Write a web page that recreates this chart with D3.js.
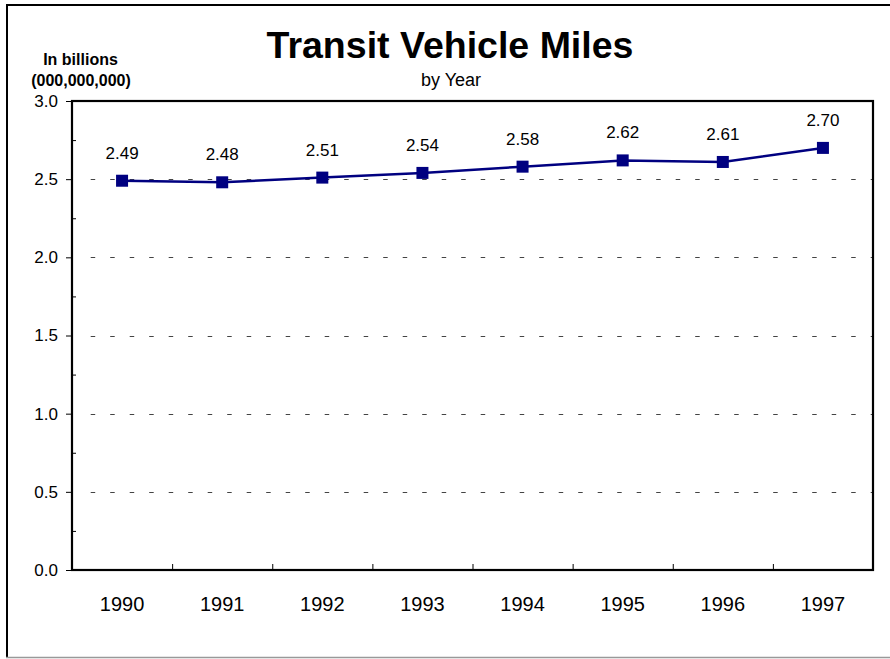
<!DOCTYPE html>
<html>
<head>
<meta charset="utf-8">
<script src="https://cdn.jsdelivr.net/npm/d3@7"></script>
<style>
  html, body { margin: 0; padding: 0; background: #fff; }
  svg { display: block; font-family: Arial, "Liberation Sans", sans-serif; }
</style>
</head>
<body>
<svg id="chart" width="890" height="659"></svg>
<script>
const years = ["1990", "1991", "1992", "1993", "1994", "1995", "1996", "1997"];
const miles = [2.49, 2.48, 2.51, 2.54, 2.58, 2.62, 2.61, 2.70];
const yTicks = [0.0, 0.5, 1.0, 1.5, 2.0, 2.5, 3.0];
const yMinorTicks = [0.25, 0.75, 1.25, 1.75, 2.25, 2.75];
const gridValues = [0.5, 1.0, 1.5, 2.0, 2.5];

const svg = d3.select("#chart");
const W = 890, H = 659;
const pL = 72, pR = 873, pT = 101, pB = 570;

svg.append("rect").attr("width", W).attr("height", H).attr("fill", "#fff");

// outer frame
svg.append("line").attr("x1", 7).attr("x2", 7).attr("y1", 4).attr("y2", 658)
  .attr("stroke", "#000").attr("stroke-width", 2);
svg.append("line").attr("x1", 6).attr("x2", W).attr("y1", 5).attr("y2", 5)
  .attr("stroke", "#000").attr("stroke-width", 2);
svg.append("line").attr("x1", 6).attr("x2", W).attr("y1", 657.5).attr("y2", 657.5)
  .attr("stroke", "#999").attr("stroke-width", 1.5);

const x = d3.scaleBand().domain(years).range([pL, pR]).padding(0);
const y = d3.scaleLinear().domain([0, 3]).range([pB, pT]);

// gridlines
svg.append("g").selectAll("line").data(gridValues).join("line")
  .attr("x1", pL + 4).attr("x2", pR)
  .attr("y1", d => Math.round(y(d)) + 0.5).attr("y2", d => Math.round(y(d)) + 0.5)
  .attr("stroke", "#444").attr("stroke-width", 1.2)
  .attr("stroke-dasharray", "4.5,15").attr("stroke-dashoffset", 4.8);

// Y axis (major ticks outward)
const yAxis = d3.axisLeft(y).tickValues(yTicks).tickFormat(d3.format(".1f"))
  .tickSize(6).tickPadding(8);
const gy = svg.append("g").attr("transform", `translate(${pL},0)`).call(yAxis);
gy.select(".domain").remove();
gy.selectAll(".tick line").attr("stroke", "#000").attr("stroke-width", 1);
gy.selectAll(".tick text").attr("font-size", 17).attr("fill", "#000")
  .attr("font-family", "Arial, 'Liberation Sans', sans-serif");

// Y minor ticks inward
const gym = svg.append("g").attr("transform", `translate(${pL},0)`)
  .call(d3.axisRight(y).tickValues(yMinorTicks).tickSize(4).tickFormat(""));
gym.select(".domain").remove();
gym.selectAll(".tick line").attr("stroke", "#000");

// X axis ticks at band boundaries (inward)
const boundaries = years.slice(1).map(d => x(d));
const xb = d3.scaleLinear().domain([pL, pR]).range([pL, pR]);
const gxt = svg.append("g").attr("transform", `translate(0,${pB})`)
  .call(d3.axisTop(xb).tickValues(boundaries).tickSize(6).tickFormat(""));
gxt.select(".domain").remove();
gxt.selectAll(".tick line").attr("stroke", "#000");

// X labels
const gx = svg.append("g").attr("transform", `translate(0,${pB})`)
  .call(d3.axisBottom(x).tickSize(0).tickPadding(27));
gx.select(".domain").remove();
gx.selectAll(".tick text").attr("font-size", 20).attr("fill", "#000")
  .attr("font-family", "Arial, 'Liberation Sans', sans-serif");

// plot border
svg.append("rect").attr("x", pL).attr("y", pT)
  .attr("width", pR - pL).attr("height", pB - pT)
  .attr("fill", "none").attr("stroke", "#000").attr("stroke-width", 2.2);

// line
const cx = d => x(d) + x.bandwidth() / 2;
const pts = years.map((yr, i) => ({ yr, v: miles[i] }));
svg.append("path").datum(pts)
  .attr("d", d3.line().x(d => cx(d.yr)).y(d => y(d.v)))
  .attr("fill", "none").attr("stroke", "#000080").attr("stroke-width", 2.5);

// markers
const ms = 12;
svg.append("g").selectAll("rect").data(pts).join("rect")
  .attr("x", d => cx(d.yr) - ms / 2).attr("y", d => y(d.v) - ms / 2)
  .attr("width", ms).attr("height", ms).attr("fill", "#000080");

// value labels
svg.append("g").selectAll("text").data(pts).join("text")
  .attr("x", d => cx(d.yr)).attr("y", d => y(d.v) - 22)
  .attr("text-anchor", "middle").attr("font-size", 17).attr("fill", "#000")
  .text(d => d.v.toFixed(2));

// titles
svg.append("text").attr("x", 450).attr("y", 58).attr("text-anchor", "middle")
  .attr("font-size", 37.5).attr("font-weight", "bold").text("Transit Vehicle Miles");
svg.append("text").attr("x", 451).attr("y", 86).attr("text-anchor", "middle")
  .attr("font-size", 18).text("by Year");
svg.append("text").attr("x", 80.5).attr("y", 65).attr("text-anchor", "middle")
  .attr("font-size", 16).attr("font-weight", "bold").text("In billions");
svg.append("text").attr("x", 81).attr("y", 86).attr("text-anchor", "middle")
  .attr("font-size", 16).attr("font-weight", "bold").text("(000,000,000)");
</script>
</body>
</html>
